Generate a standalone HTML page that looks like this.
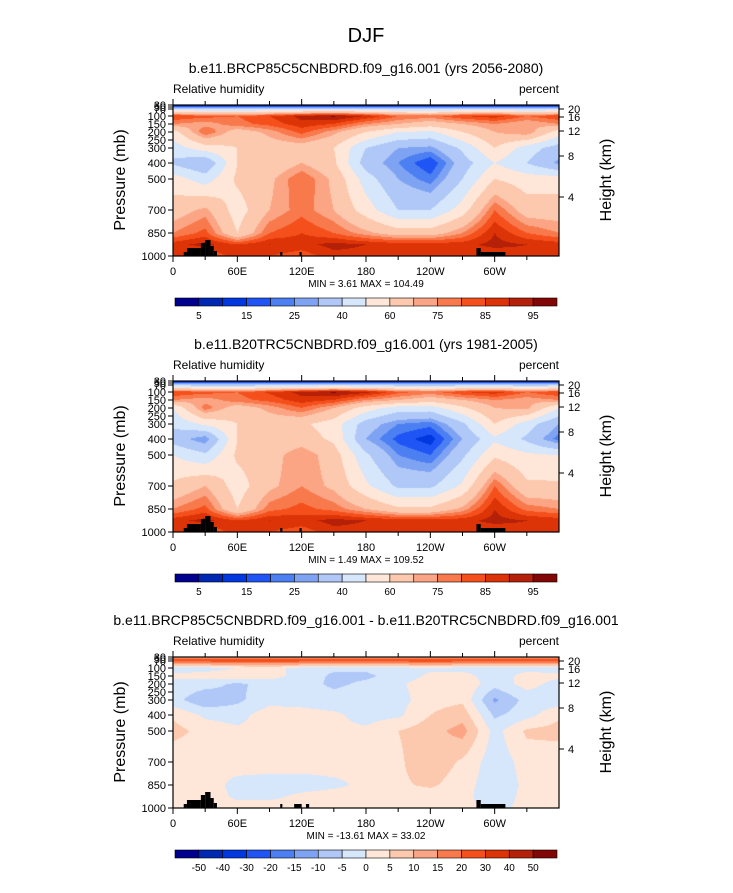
<!DOCTYPE html>
<html><head><meta charset="utf-8">
<style>
body{margin:0;background:#fff;width:733px;height:888px;overflow:hidden;font-family:"Liberation Sans",sans-serif;}
svg text{font-family:"Liberation Sans",sans-serif;}
</style></head>
<body>
<svg id="fig" width="733" height="888" xmlns="http://www.w3.org/2000/svg">
<text x="366" y="42" font-size="20" text-anchor="middle">DJF</text>
</svg>
<script>
// ---- data ----
const lons = [0,30,60,90,120,150,180,210,240,270,300,330,360];
const rowPres = [70,85,100,150,200,300,400,500,700,850,925,1000];
const rh1 = [
 [3,3,3,3,3,3,3,3,3,3,3,3,3],
 [35,35,35,35,35,35,35,35,35,35,35,35,35],
 [85,82,80,85,92,96,90,80,78,85,88,80,85],
 [75,72,78,82,88,85,75,70,65,70,75,70,75],
 [55,80,65,72,82,72,60,50,48,60,70,75,55],
 [45,55,60,65,65,60,40,30,28,42,60,45,35],
 [38,30,60,62,70,62,35,25,15,35,50,40,28],
 [55,45,62,68,80,68,45,30,22,40,60,55,55],
 [65,72,55,70,78,70,55,40,40,55,80,65,65],
 [75,82,60,80,85,80,72,65,65,75,90,80,75],
 [88,92,85,90,88,92,90,88,88,88,92,90,88],
 [88,80,88,85,82,88,88,88,88,88,85,88,88]];
const rh2 = [
 [3,3,3,3,3,3,3,3,3,3,3,3,3],
 [30,30,30,30,30,30,30,30,30,30,30,30,30],
 [85,82,80,86,92,96,92,82,78,85,88,80,85],
 [75,72,78,82,88,85,75,70,65,70,75,72,75],
 [50,78,65,72,80,70,55,45,45,58,70,72,50],
 [42,52,60,65,62,55,35,25,22,38,60,45,30],
 [35,25,60,62,65,58,30,18,12,30,48,38,22],
 [50,42,62,66,75,65,42,25,20,38,58,52,50],
 [62,70,55,68,75,68,52,38,38,52,80,62,62],
 [75,82,60,78,82,78,70,62,62,72,90,78,75],
 [88,92,85,90,88,92,90,88,88,88,92,90,88],
 [88,80,88,85,82,88,88,88,88,88,85,88,88]];
const diff = [
 [8,8,8,8,8,8,8,8,8,8,8,8,8],
 [25,25,25,25,25,25,25,25,25,25,25,25,25],
 [-2,-2,0,2,-2,-4,-4,-2,-1,-2,-2,-2,-2],
 [1,2,3,2,-2,-6,-6,-3,1,2,-3,2,1],
 [-2,-3,-6,-3,-3,-6,-4,-1,3,4,-3,2,-2],
 [-3,-9,-6,-2,-2,-3,-2,-2,3,4,-11,-3,-3],
 [4,-1,-2,3,2,1,-2,-1,5,8,-6,-2,4],
 [7,3,1,2,3,1,1,5,8,12,-2,6,7],
 [1,2,3,2,2,2,1,4,9,4,-3,2,1],
 [2,3,-2,-2,-2,-1,1,4,6,2,-3,1,2],
 [2,3,-1,-1,1,2,2,2,2,2,-4,2,2],
 [2,2,2,2,2,2,2,2,2,2,-2,2,2]];
const levRH = [5,10,15,20,25,30,40,50,60,70,75,80,85,90,95];
const levDiff = [-50,-40,-30,-20,-15,-10,-5,0,5,10,15,20,30,40,50];
const labRH = ["5","15","25","40","60","75","85","95"];
const labDiff = ["-50","-40","-30","-20","-15","-10","-5","0","5","10","15","20","30","40","50"];
const colors = ["#00008f","#0028b0","#0038e0","#1f55f5","#4c7ff2","#7fa3f3","#afc8f7","#d6e6fb","#fee7d8","#fcc8ae","#fba584","#f87a4c","#f5501c","#dd3407","#b42008","#820606"];
const land1 = [[10,13,4],[13,26,8],[26,30,13],[30,35,16],[35,38,10],[38,41,5],[100,102,4],[118,120,4],[283,287,8],[287,310,4]];
const land3 = [[10,13,4],[13,26,8],[26,30,13],[30,35,16],[35,38,10],[38,41,5],[100,102,4],[113,120,4],[124,127,4],[283,287,8],[287,310,4]];
// axis tick tables (pressure -> y offset within plot of height 151)
const pTick = [70,80,90,100,150,200,250,300,400,500,700,850,1000];
const pY = [0,2,4,11,19,27,35,43,58,74,105,128,151];
const pLabs = ["30","50","70","100","150","200","250","300","400","500","700","850","1000"];
const hTicks = [4,8,12,16,20];
const hY = [92,51,26,12,4];
const lonLabs = ["0","60E","120E","180","120W","60W"];
const lonLabPos = [0,60,120,180,240,300];

// ---- drawing ----
const NS="http://www.w3.org/2000/svg";
const svg=document.getElementById('fig');
const X0=173, W=386, H=151;
function xOf(lon){return X0+lon*W/360;}
function yOfP(p){for(let i=0;i<pTick.length-1;i++){if(p<=pTick[i+1]){const t=(p-pTick[i])/(pTick[i+1]-pTick[i]);return pY[i]+t*(pY[i+1]-pY[i]);}}return H;}
function mk(tag,attrs,parent){const e=document.createElementNS(NS,tag);for(const k in attrs)e.setAttribute(k,attrs[k]);(parent||svg).appendChild(e);return e;}
function txt(x,y,s,size,anchor,name,parent){const t=mk('text',{x:x,y:y,'font-size':size,'text-anchor':anchor||'start'},parent);t.textContent=s;


return t;}
function colorIdx(v,lev){let i=0;while(i<lev.length&&v>=lev[i])i++;return i;}
function hex(c){return [parseInt(c.slice(1,3),16),parseInt(c.slice(3,5),16),parseInt(c.slice(5,7),16)];}
const rgb=colors.map(hex);

function panel(top,title,grid,lev,labs,land,minmax){
  txt(366,top-32,title,14,'middle','panel-title');
  txt(X0,top-12,'Relative humidity',12,'start','variable-label');
  txt(X0+W,top-12,'percent',12,'end','units-label');
  const fo=mk('foreignObject',{x:X0,y:top,width:W,height:H});
  
  
  const cv=document.createElement('canvas');cv.width=W;cv.height=H;cv.style.display='block';
  fo.appendChild(cv);
  const ctx=cv.getContext('2d');const img=ctx.createImageData(W,H);
  const rowY=rowPres.map(yOfP);
  for(let py=0;py<H;py++){
    const yy=py+0.5;let r=0;while(r<rowY.length-2&&yy>rowY[r+1])r++;
    let ty=(yy-rowY[r])/(rowY[r+1]-rowY[r]);ty=Math.max(0,Math.min(1,ty));
    for(let px=0;px<W;px++){
      const lon=(px+0.5)*360/W;let c=Math.min(lons.length-2,Math.floor(lon/30));
      const tx=(lon-lons[c])/(lons[c+1]-lons[c]);
      const v=(1-ty)*((1-tx)*grid[r][c]+tx*grid[r][c+1])+ty*((1-tx)*grid[r+1][c]+tx*grid[r+1][c+1]);
      const col=rgb[colorIdx(v,lev)];const k=(py*W+px)*4;
      img.data[k]=col[0];img.data[k+1]=col[1];img.data[k+2]=col[2];img.data[k+3]=255;
    }
  }
  ctx.putImageData(img,0,0);
  land.forEach(b=>{const r=mk('rect',{x:xOf(b[0]),y:top+H-b[2],width:xOf(b[1])-xOf(b[0]),height:b[2],fill:'#000'});
    
    });
  const box=mk('rect',{x:X0,y:top,width:W,height:H,fill:'none',stroke:'#000','stroke-width':1.2});
  
  
  for(let lon=0;lon<360;lon+=30){const x=xOf(lon);
    mk('line',{x1:x,y1:top+H,x2:x,y2:top+H+(lon%60==0?6:4),stroke:'#000'});
    mk('line',{x1:x,y1:top,x2:x,y2:top-(lon%60==0?6:4),stroke:'#000'});}
  lonLabs.forEach((s,i)=>txt(xOf(lonLabPos[i]),top+H+19,s,11,'middle','x-tick-label'));
  pTick.forEach((p,i)=>{mk('line',{x1:X0,y1:top+pY[i],x2:X0-5,y2:top+pY[i],stroke:'#000'});
    txt(X0-7,top+pY[i]+4,pLabs[i],11,'end','y-tick-label');});
  hTicks.forEach((h,i)=>{mk('line',{x1:X0+W,y1:top+hY[i],x2:X0+W+5,y2:top+hY[i],stroke:'#000'});
    txt(X0+W+9,top+hY[i]+4,String(h),11,'start','height-tick-label');});
  const yt=txt(0,0,'Pressure (mb)',16,'middle','y-axis-title');yt.setAttribute('transform',`translate(125,${top+75}) rotate(-90)`);
  const ht=txt(0,0,'Height (km)',16,'middle','right-axis-title');ht.setAttribute('transform',`translate(611,${top+75}) rotate(-90)`);
  txt(366,top+H+31,minmax,10,'middle','min-max-label');
  const cbY=top+193,cbX=175,cbW=382,n=colors.length,bw=cbW/n;
  colors.forEach((c,i)=>{const r=mk('rect',{x:cbX+i*bw,y:cbY,width:bw,height:8,fill:c,stroke:'#000','stroke-width':0.6});
    
    });
  const step=labs.length<lev.length?2:1;
  labs.forEach((s,j)=>{const i=j*step;txt(cbX+(i+1)*bw,cbY+21,s,10,'middle','colorbar-label');});
}
panel(105,'b.e11.BRCP85C5CNBDRD.f09_g16.001 (yrs 2056-2080)',rh1,levRH,labRH,land1,'MIN =   3.61  MAX = 104.49');
panel(381,'b.e11.B20TRC5CNBDRD.f09_g16.001 (yrs 1981-2005)',rh2,levRH,labRH,land1,'MIN =   1.49  MAX = 109.52');
panel(657,'b.e11.BRCP85C5CNBDRD.f09_g16.001 - b.e11.B20TRC5CNBDRD.f09_g16.001',diff,levDiff,labDiff,land3,'MIN = -13.61  MAX =  33.02');
</script>
</body></html>
